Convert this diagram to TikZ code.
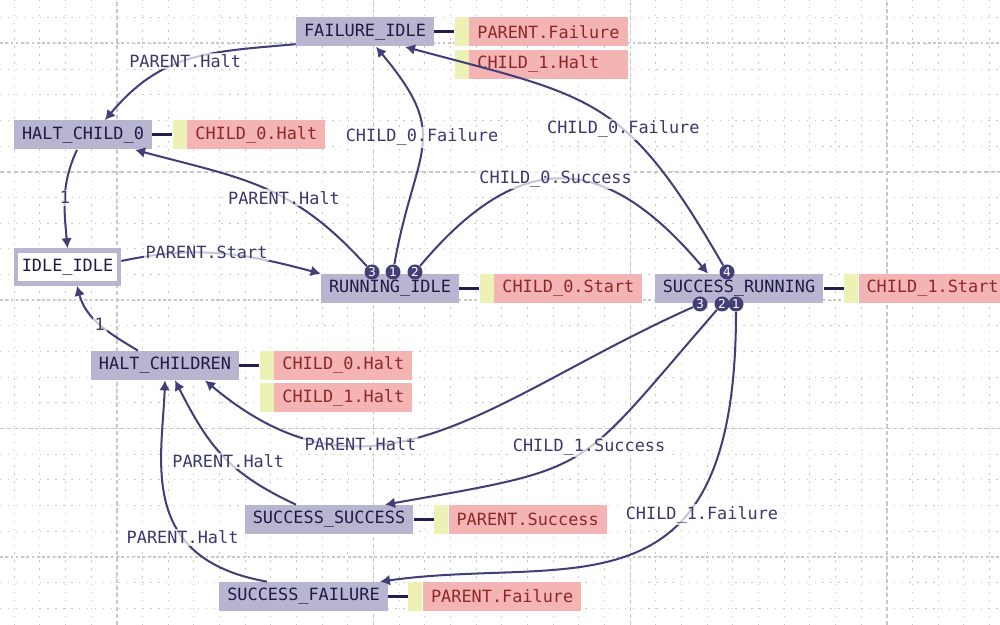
\documentclass[tikz,border=0pt]{standalone}
\usepackage{fontspec}
\setmonofont{DejaVu Sans Mono}
\setsansfont{DejaVu Sans}
\usetikzlibrary{arrows.meta}
\usetikzlibrary{positioning}
\tikzset{>={Latex[length=5.7pt,width=6.2pt]}}

\definecolor{statefill}{RGB}{183,181,207}
\definecolor{statetext}{RGB}{30,28,70}
\definecolor{edgecol}{RGB}{66,62,120}
\definecolor{lbltext}{RGB}{58,56,110}
\definecolor{actfill}{RGB}{244,180,180}
\definecolor{acttext}{RGB}{140,40,40}
\definecolor{guardfill}{RGB}{237,242,180}
\definecolor{linkcol}{RGB}{35,30,80}
\definecolor{gridcol}{RGB}{200,200,200}

\begin{document}
\begin{tikzpicture}[every node/.style={font=\ttfamily\fontsize{9.6}{11}\selectfont},
		state/.style={rectangle, fill=statefill, text=statetext, inner xsep=0.16cm, minimum height=0.58cm},
		entry/.style={rectangle, draw=statefill, line width=0.09cm, fill=white, text=statetext, minimum width=2.05cm, minimum height=0.66cm},
		guard/.style={rectangle, fill=guardfill, inner sep=0pt, minimum width=0.28cm, minimum height=0.58cm},
		act/.style={rectangle, fill=actfill, text=acttext, inner xsep=0.16cm, minimum height=0.58cm},
		badge/.style={circle, fill=edgecol, text=white, inner sep=0pt, minimum size=0.3cm, font=\sffamily\fontsize{7}{7}\selectfont},
		lbl/.style={fill=white, fill opacity=0.7, text opacity=1, text=lbltext, inner sep=1pt},
		link/.style={draw=linkcol, line width=1.7pt},
		trans/.style={->, every edge/.style={draw=edgecol, line width=1.15pt}},
		minorgrid/.style={draw=gridcol, line width=0.6pt, dash pattern=on 0.8pt off 3.7pt},
		majorgrid/.style={draw=gridcol, line width=0.8pt, dash pattern=on 2.3pt off 1.7pt},
		midgrid/.style={draw=gridcol, line width=0.6pt, dash pattern=on 1.5pt off 1.5pt}]
		\useasboundingbox (0,0) rectangle (20,12.5);

		% background grid
		\foreach \i in {0,...,38} \draw[minorgrid] ({0.286+\i*0.5133},0) -- ++(0,12.5);
		\foreach \j in {0,...,23} \draw[minorgrid] (0,{12.142-\j*0.5133}) -- ++(20,0);
		\foreach \y in {11.64,6.5,1.36} \draw[midgrid] (0,\y) -- ++(20,0);
		\foreach \x in {2.34,7.473,12.607,17.74} \draw[majorgrid] (\x,0) -- ++(0,12.5);
		\foreach \y in {9.06,3.926} \draw[majorgrid] (0,\y) -- ++(20,0);

		% states and their actions
		\node[state] (fi) at (7.30,11.86) {FAILURE\_IDLE};
		\node[guard, right=0.4cm of fi] (fig) {};
		\node[act, right=0pt of fig, text width=2.86cm, align=left] (fia) {PARENT.Failure};
		\node[guard, below=0.05cm of fig] (fig2) {};
		\node[act, right=0pt of fig2, text width=2.86cm, align=left] (fib) {CHILD\_1.Halt};

		\node[state] (hc) at (1.66,9.80) {HALT\_CHILD\_0};
		\node[guard, right=0.4cm of hc] (hcg) {};
		\node[act, right=0pt of hcg] (hca) {CHILD\_0.Halt};

		\node[entry] (ii) at (1.35,7.16) {IDLE\_IDLE};

		\node[state] (ri) at (7.80,6.73) {RUNNING\_IDLE};
		\node[guard, right=0.4cm of ri] (rig) {};
		\node[act, right=0pt of rig] (ria) {CHILD\_0.Start};

		\node[state] (sr) at (14.78,6.73) {SUCCESS\_RUNNING};
		\node[guard, right=0.4cm of sr] (srg) {};
		\node[act, right=0pt of srg, text width=3.2cm, align=left] (sra) {CHILD\_1.Start};

		\node[state] (hs) at (3.30,5.19) {HALT\_CHILDREN};
		\node[guard, right=0.4cm of hs] (hsg) {};
		\node[act, right=0pt of hsg] (hsa) {CHILD\_0.Halt};
		\node[guard, below=0.05cm of hsg] (hsg2) {};
		\node[act, right=0pt of hsg2] (hsb) {CHILD\_1.Halt};

		\node[state] (ss) at (6.58,2.11) {SUCCESS\_SUCCESS};
		\node[guard, right=0.4cm of ss] (ssg) {};
		\node[act, right=0pt of ssg] (ssa) {PARENT.Success};

		\node[state] (sf) at (6.07,0.57) {SUCCESS\_FAILURE};
		\node[guard, right=0.4cm of sf] (sfg) {};
		\node[act, right=0pt of sfg] (sfa) {PARENT.Failure};

		\draw[link] (fi) -- (fig);
		\draw[link] (hc) -- (hcg);
		\draw[link] (ri) -- (rig);
		\draw[link] (sr) -- (srg);
		\draw[link] (hs) -- (hsg);
		\draw[link] (ss) -- (ssg);
		\draw[link] (sf) -- (sfg);

		% numbered exits
		\node[badge] (r3) at (7.44,7.06) {3};
		\node[badge] (r1) at (7.86,7.06) {1};
		\node[badge] (r2) at (8.30,7.06) {2};
		\node[badge] (s4) at (14.54,7.06) {4};
		\node[badge] (s3) at (14.00,6.42) {3};
		\node[badge] (s2) at (14.44,6.42) {2};
		\node[badge] (s1) at (14.72,6.42) {1};

		\path[trans]
			(fi.190) edge [out=185, in=50, looseness=1.1] node [lbl, pos=0.52] {PARENT.Halt} ([xshift=0.44cm]hc.north)
			([xshift=-0.12cm]hc.south) edge [out=245, in=95] node [lbl] {1} (ii.north)
			([yshift=0.12cm]ii.east) edge [out=12, in=165] node [lbl, pos=0.42] {PARENT.Start} (ri.north west)
			([xshift=-0.54cm]hs.north) edge [out=149, in=285] node [lbl] {1} ([xshift=0.19cm]ii.south)

			(r3) edge [out=132, in=345, looseness=1.1] node [lbl, pos=0.4] {PARENT.Halt} ([xshift=1.04cm]hc.south)
			(r1) edge [out=80, in=310, looseness=1.4] node [lbl, pos=0.55] {CHILD\_0.Failure} ([xshift=0.22cm]fi.south)
			(r2) edge [out=50, in=130, looseness=1.4] node [lbl, pos=0.47] {CHILD\_0.Success} ([xshift=-0.62cm]sr.north)

			(s4) edge [out=120, in=345, looseness=1.3] node [lbl, pos=0.4] {CHILD\_0.Failure} ([xshift=0.80cm]fi.south)
			(s3) edge [out=204, in=320, looseness=1.15] node [lbl, pos=0.67] {PARENT.Halt} ([xshift=0.80cm]hs.south)
			(s2) edge [out=229, in=10, looseness=1.45] node [lbl, pos=0.45] {CHILD\_1.Success} ([xshift=1.12cm]ss.north)
			(s1) edge [out=270, in=8, out looseness=1.8, in looseness=1.1] node [lbl, pos=0.33, xshift=0.3cm] {CHILD\_1.Failure} ([xshift=1.53cm]sf.north)

			([xshift=-0.66cm]ss.north) edge [out=155, in=297, looseness=1.1] node [lbl, pos=0.45] {PARENT.Halt} ([xshift=0.20cm]hs.south)
			([xshift=-0.73cm]sf.north) edge [out=170, in=268, out looseness=1.5, in looseness=0.9] node [lbl, pos=0.33] {PARENT.Halt} (hs.south)
			;
\end{tikzpicture}
\end{document}
